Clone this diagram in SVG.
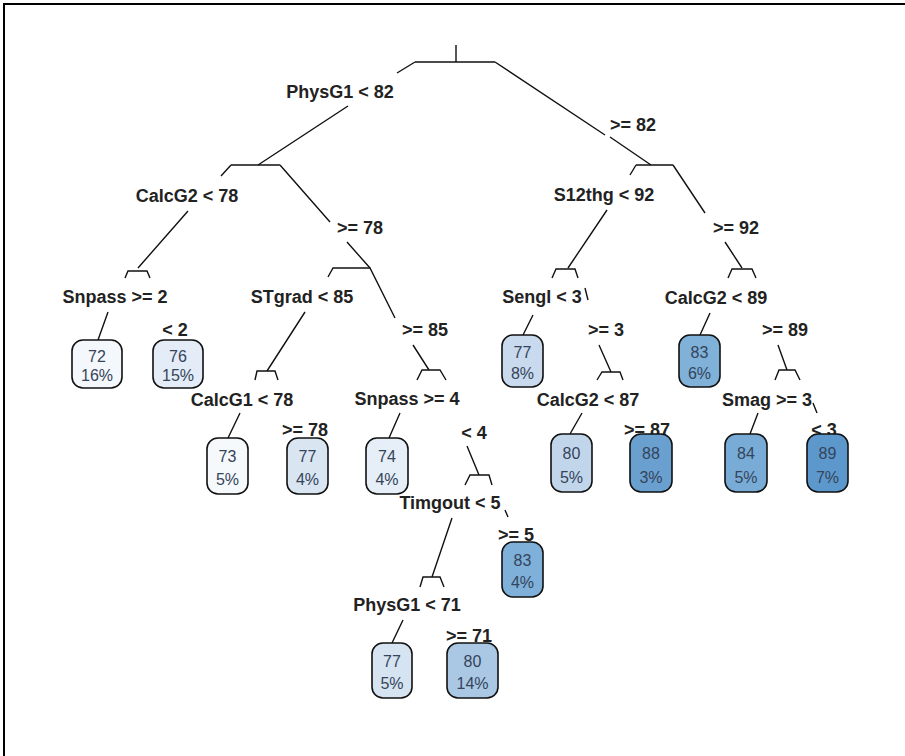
<svg xmlns="http://www.w3.org/2000/svg" width="905" height="756" viewBox="0 0 905 756">
<style>
.lbl{font-family:"Liberation Sans",Arial,sans-serif;font-weight:bold;font-size:18px;fill:#222;text-anchor:middle}
.lf{font-family:"Liberation Sans",Arial,sans-serif;font-size:16px;fill:#34445a;text-anchor:middle}
.br{stroke:#111;stroke-width:1.4;fill:none}
.box{stroke:#111;stroke-width:1.6}
</style>
<rect width="905" height="756" fill="#fff"/>
<path d="M4,756 V4 H905" fill="none" stroke="#000" stroke-width="2"/>
<g id="connectors" class="br">
<path d="M456,45 V62 M415,62 H495 M415,62 L397,73 M348,106 L258,165 M495,62 L605,135 M610,137 L651,165"/>
<path d="M231,165 H280 M231,165 L221,176 M188,211 L138,268 M280,165 L330,222 M347,242 L370,268"/>
<path d="M636,165 H673 M636,165 L630,175 M607,210 L568,268 M673,165 L705,213 M725,242 L742,268"/>
<path d="M125,278 L128,271 H147 L150,278 M108,312 L98,340"/>
<path d="M328,277 L333,268 H370 L395,318 M305,312 L267,371 M413,345 L429,370"/>
<path d="M552,278 L556,269 H575 L578,278 M585,288 L588,300 M533,315 L523,335 M599,345 L611,372"/>
<path d="M728,278 L732,269 H752 L756,278 M710,313 L700,335 M778,345 L787,370"/>
<path d="M255,380 L257,371 H275 L278,380 M240,413 L228,438"/>
<path d="M417,380 L422,370 H440 L446,380 M400,413 L389,438 M467,446 L479,475"/>
<path d="M597,380 L602,372 H620 L623,380 M582,413 L570,434"/>
<path d="M775,380 L779,370 H795 L800,380 M813,403 L817,413 M758,413 L750,434"/>
<path d="M465,485 L470,475 H489 L492,485 M505,510 L508,517 M452,518 L432,577"/>
<path d="M420,587 L423,577 H440 L444,587 M403,620 L392,643"/>
</g>
<g id="n1"><text class="lbl" x="340" y="98">PhysG1 &lt; 82</text></g>
<g id="n1r"><text class="lbl" x="633" y="131">&gt;= 82</text></g>
<g id="n2"><text class="lbl" x="187" y="202">CalcG2 &lt; 78</text></g>
<g id="n2r"><text class="lbl" x="360" y="234">&gt;= 78</text></g>
<g id="n3"><text class="lbl" x="604" y="201">S12thg &lt; 92</text></g>
<g id="n3r"><text class="lbl" x="736" y="234">&gt;= 92</text></g>
<g id="n4"><text class="lbl" x="115" y="303">Snpass &gt;= 2</text><text class="lbl" x="175" y="336">&lt; 2</text></g>
<g id="n5"><text class="lbl" x="302" y="303">STgrad &lt; 85</text><text class="lbl" x="425" y="336">&gt;= 85</text></g>
<g id="n6"><text class="lbl" x="542" y="303">Sengl &lt; 3</text><text class="lbl" x="606" y="336">&gt;= 3</text></g>
<g id="n7"><text class="lbl" x="716" y="304">CalcG2 &lt; 89</text><text class="lbl" x="785" y="336">&gt;= 89</text></g>
<g id="n8"><text class="lbl" x="242" y="406">CalcG1 &lt; 78</text></g>
<g id="n9"><text class="lbl" x="407" y="405">Snpass &gt;= 4</text><text class="lbl" x="474" y="439">&lt; 4</text></g>
<g id="n10"><text class="lbl" x="588" y="406">CalcG2 &lt; 87</text></g>
<g id="n11"><text class="lbl" x="767" y="406">Smag &gt;= 3</text></g>
<g id="n12"><text class="lbl" x="450" y="509">Timgout &lt; 5</text></g>
<g id="n13"><text class="lbl" x="407" y="611">PhysG1 &lt; 71</text></g>
<g id="leaf72"><rect class="box" x="72" y="340" width="50" height="48" rx="11" fill="#f4f8fc"/><text class="lf" x="97" y="362">72</text><text class="lf" x="97" y="381">16%</text></g>
<g id="leaf76"><rect class="box" x="153" y="340" width="50" height="48" rx="11" fill="#e3ecf7"/><text class="lf" x="178" y="362">76</text><text class="lf" x="178" y="381">15%</text></g>
<g id="leaf73"><rect class="box" x="207" y="438" width="41" height="56" rx="11" fill="#f6f9fc"/><text class="lf" x="227.5" y="462">73</text><text class="lf" x="227.5" y="485">5%</text></g>
<g id="leaf77a"><text class="lbl" x="305" y="436">&gt;= 78</text><rect class="box" x="287" y="438" width="41" height="56" rx="11" fill="#dae5f2"/><text class="lf" x="307.5" y="462">77</text><text class="lf" x="307.5" y="485">4%</text></g>
<g id="leaf74"><rect class="box" x="366" y="438" width="42" height="56" rx="11" fill="#e6eef7"/><text class="lf" x="387" y="462">74</text><text class="lf" x="387" y="485">4%</text></g>
<g id="leaf77b"><rect class="box" x="502" y="335" width="41" height="52" rx="11" fill="#c9daee"/><text class="lf" x="522.5" y="358">77</text><text class="lf" x="522.5" y="379">8%</text></g>
<g id="leaf83a"><rect class="box" x="679" y="335" width="41" height="52" rx="11" fill="#7fb1d9"/><text class="lf" x="699.5" y="358">83</text><text class="lf" x="699.5" y="379">6%</text></g>
<g id="leaf80a"><rect class="box" x="551" y="434" width="41" height="58" rx="11" fill="#c2d6eb"/><text class="lf" x="571.5" y="459">80</text><text class="lf" x="571.5" y="483">5%</text></g>
<g id="leaf88"><text class="lbl" x="647" y="436">&gt;= 87</text><rect class="box" x="630" y="434" width="42" height="58" rx="11" fill="#6aa0d0"/><text class="lf" x="651" y="459">88</text><text class="lf" x="651" y="483">3%</text></g>
<g id="leaf84"><rect class="box" x="725" y="434" width="42" height="58" rx="11" fill="#78acd7"/><text class="lf" x="746" y="459">84</text><text class="lf" x="746" y="483">5%</text></g>
<g id="leaf89"><text class="lbl" x="824" y="436">&lt; 3</text><rect class="box" x="807" y="434" width="41" height="58" rx="11" fill="#5d98cd"/><text class="lf" x="827.5" y="459">89</text><text class="lf" x="827.5" y="483">7%</text></g>
<g id="leaf83b"><text class="lbl" x="516" y="541">&gt;= 5</text><rect class="box" x="502" y="542" width="41" height="55" rx="11" fill="#7fb0d9"/><text class="lf" x="522.5" y="566">83</text><text class="lf" x="522.5" y="588">4%</text></g>
<g id="leaf77c"><rect class="box" x="372" y="643" width="40" height="55" rx="11" fill="#d6e3f1"/><text class="lf" x="392" y="667">77</text><text class="lf" x="392" y="689">5%</text></g>
<g id="leaf80b"><text class="lbl" x="469" y="642">&gt;= 71</text><rect class="box" x="447" y="643" width="51" height="55" rx="11" fill="#aac8e4"/><text class="lf" x="472.5" y="667">80</text><text class="lf" x="472.5" y="689">14%</text></g>
</svg>
